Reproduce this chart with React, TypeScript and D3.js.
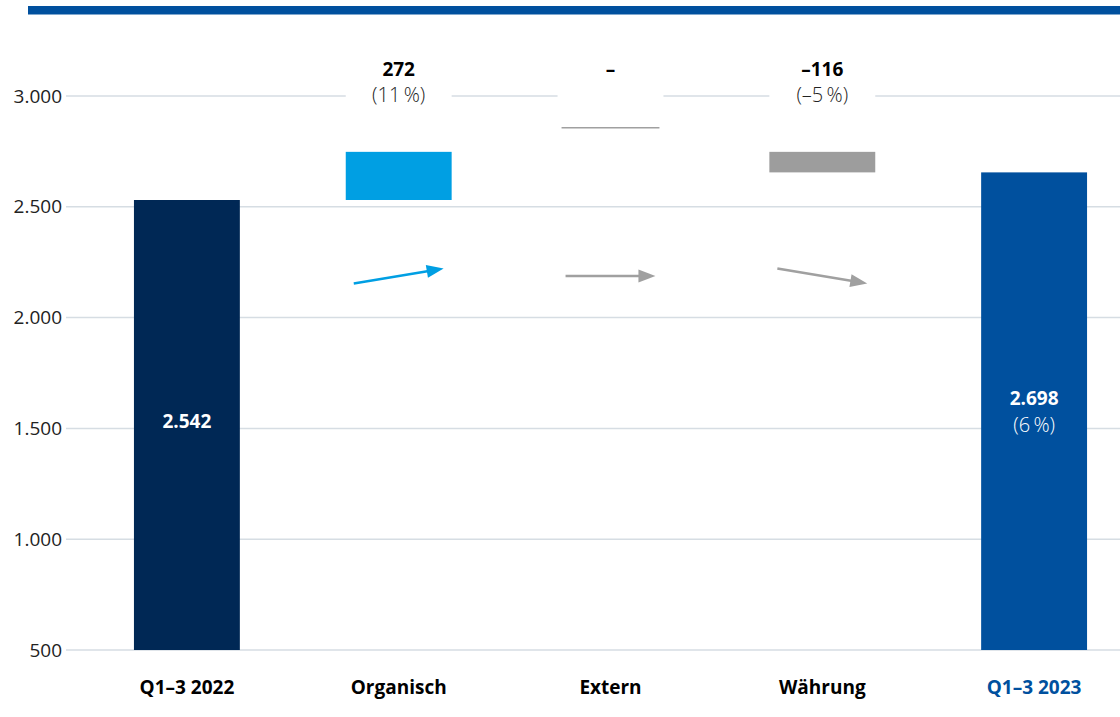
import React from "react";
import * as d3 from "d3";

const categories = ["Q1–3 2022", "Organisch", "Extern", "Währung", "Q1–3 2023"];
const values = [2542, 272, 0, -116, 2698];
const kinds = ["total", "delta", "delta", "delta", "total"];
const valueLabels = ["2.542", "272", "–", "–116", "2.698"];
const pctLabels = ["", "(11\u2009%)", "", "(–5\u2009%)", "(6\u2009%)"];
const yTicks = [500, 1000, 1500, 2000, 2500, 3000];
const zeroMarkerValue = 2950;

const W = 1120;
const H = 717;
const FONT = "'Open Sans', 'Noto Sans', sans-serif";

const colors: Record<string, string> = {
  "Q1–3 2022": "#002855",
  Organisch: "#009fe3",
  Extern: "#9d9d9d",
  Währung: "#9d9d9d",
  "Q1–3 2023": "#00509e",
};

const de = d3.formatLocale({ decimal: ",", thousands: ".", grouping: [3], currency: ["", "€"] });
const fmt = de.format(",");

export default function App() {
  const x = d3.scaleBand<string>().domain(categories).range([81, 1140]).paddingInner(0.5).paddingOuter(0.25);
  const yAxis = d3.scaleLinear().domain([500, 3000]).range([650, 96]);
  const yBar = d3.scaleLinear().domain([0, 2542]).range([650, 200]);
  const bw = x.bandwidth();

  let running = 0;
  const bars = categories.map((c, i) => {
    let y0: number, y1: number;
    if (kinds[i] === "total") {
      y0 = 0;
      y1 = values[i];
      running = values[i];
    } else {
      y0 = running;
      y1 = running + values[i];
      running = y1;
    }
    return { c, i, lo: Math.min(y0, y1), hi: Math.max(y0, y1), v: values[i] };
  });

  const arrowY = 276;
  const arrowRise = 7.5;

  const arrow = (c: string, v: number, key: number) => {
    const bx = x(c)!;
    const x1 = bx + 8;
    const x2 = bx + bw - 8;
    const dir = Math.sign(v);
    const ya = arrowY + dir * arrowRise;
    const yb = arrowY - dir * arrowRise;
    const color = v > 0 ? "#009fe3" : "#a0a0a0";
    const ang = Math.atan2(yb - ya, x2 - x1);
    const L = 17, hw = 6.5;
    const bxh = x2 - L * Math.cos(ang);
    const byh = yb - L * Math.sin(ang);
    const px = -Math.sin(ang) * hw, py = Math.cos(ang) * hw;
    return (
      <g key={"a" + key}>
        <line x1={x1} y1={ya} x2={bxh + 2 * Math.cos(ang)} y2={byh + 2 * Math.sin(ang)} stroke={color} strokeWidth={2.5} />
        <path d={`M${x2},${yb}L${bxh + px},${byh + py}L${bxh - px},${byh - py}Z`} fill={color} />
      </g>
    );
  };

  return (
    <svg width={W} height={H} style={{ position: "absolute", left: 0, top: 0, background: "#fff" }} fontFamily={FONT}>
      <rect x={28} y={6} width={W - 28} height={8.5} fill="#00509e" />
      {yTicks.map((t) => (
        <g key={t}>
          <line x1={66} x2={W} y1={yAxis(t)} y2={yAxis(t)} stroke="#d6dde3" strokeWidth={1.5} />
          <text x={62} y={yAxis(t)} dy="0.35em" textAnchor="end" fontSize={19} fill="#222">
            {fmt(t)}
          </text>
        </g>
      ))}
      {bars.filter((b) => kinds[b.i] === "delta").map((b) => (
        <rect key={"bg" + b.i} x={x(b.c)!} y={52} width={bw} height={60} fill="#fff" />
      ))}
      {bars.map((b) =>
        b.hi - b.lo > 0 ? (
          <rect key={"b" + b.i} x={x(b.c)!} y={yBar(b.hi)} width={bw} height={yBar(b.lo) - yBar(b.hi)} fill={colors[b.c]} />
        ) : (
          <line key={"b" + b.i} x1={x(b.c)! + 4} x2={x(b.c)! + bw - 4} y1={yBar(zeroMarkerValue)} y2={yBar(zeroMarkerValue)} stroke="#a0a0a0" strokeWidth={1.5} />
        )
      )}
      {bars.filter((b) => kinds[b.i] === "delta").map((b) => arrow(b.c, b.v, b.i))}
      {bars.filter((b) => kinds[b.i] === "delta").map((b) => (
        <g key={"l" + b.i}>
          <text x={x(b.c)! + bw / 2} y={76} textAnchor="middle" fontSize={19} fontWeight={700} fill="#000">
            {valueLabels[b.i]}
          </text>
          {pctLabels[b.i] && (
            <text x={x(b.c)! + bw / 2} y={102} textAnchor="middle" fontSize={20} fontWeight={300} fill="#222">
              {pctLabels[b.i]}
            </text>
          )}
        </g>
      ))}
      {bars.filter((b) => kinds[b.i] === "total").map((b) =>
        pctLabels[b.i] ? (
          <g key={"t" + b.i}>
            <text x={x(b.c)! + bw / 2} y={405} textAnchor="middle" fontSize={19} fontWeight={700} fill="#fff">
              {valueLabels[b.i]}
            </text>
            <text x={x(b.c)! + bw / 2} y={432} textAnchor="middle" fontSize={20} fontWeight={300} fill="#fff">
              {pctLabels[b.i]}
            </text>
          </g>
        ) : (
          <text key={"t" + b.i} x={x(b.c)! + bw / 2} y={428} textAnchor="middle" fontSize={19} fontWeight={700} fill="#fff">
            {valueLabels[b.i]}
          </text>
        )
      )}
      {categories.map((c, i) => (
        <text key={"x" + i} x={x(c)! + bw / 2} y={694} textAnchor="middle" fontSize={19} fontWeight={700} fill={i === categories.length - 1 ? "#00509e" : "#000"}>
          {c}
        </text>
      ))}
    </svg>
  );
}
